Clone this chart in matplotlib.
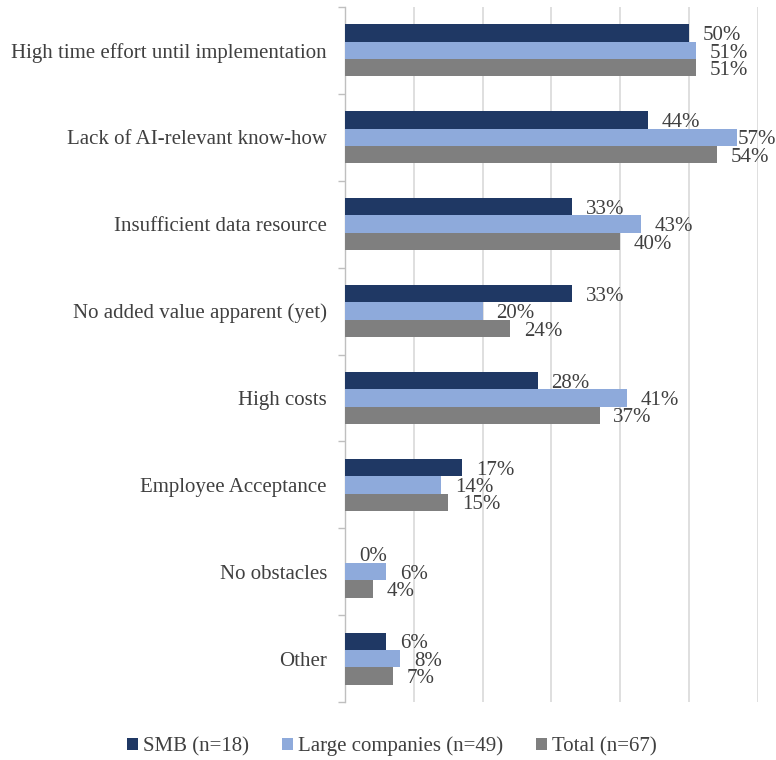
import numpy as np
import matplotlib
matplotlib.use("Agg")
import matplotlib.pyplot as plt

plt.rcParams['font.family'] = ['Liberation Serif', 'DejaVu Serif']

categories = ["High time effort until implementation",
              "Lack of AI-relevant know-how",
              "Insufficient data resource",
              "No added value apparent (yet)",
              "High costs",
              "Employee Acceptance",
              "No obstacles",
              "Other"]
smb = [50, 44, 33, 33, 28, 17, 0, 6]
large = [51, 57, 43, 20, 41, 14, 6, 8]
total = [51, 54, 40, 24, 37, 15, 4, 7]
series_names = ["SMB (n=18)", "Large companies (n=49)", "Total (n=67)"]
colors = ["#1F3864", "#8EAADB", "#7F7F7F"]

fig = plt.figure(figsize=(7.76, 7.6), dpi=100)
ax = fig.add_axes([0.4446, 0.0763, 0.5320, 0.9145])

n = len(categories)
y = np.arange(n)
h = 0.2
for i, (vals, name, c) in enumerate(zip([smb, large, total], series_names, colors)):
    pos = y + (i - 1) * h
    ax.barh(pos, vals, height=h, color=c, label=name, zorder=3)
    for p, v in zip(pos, vals):
        # keep labels inside the figure like Excel does
        ax.text(min(v + 2.0, 57.0), p + 0.03, f"{v}%", ha='left', va='center',
                fontsize=15, color='#404040', zorder=4)

ax.set_xlim(0, 60)
ax.set_ylim(n - 0.5, -0.5)
ax.set_xticks(np.arange(10, 61, 10))
ax.tick_params(axis='x', length=0, labelbottom=False)
ax.xaxis.grid(True, color='#D9D9D9', linewidth=1.2, zorder=0)

ax.set_yticks(y)
ax.set_yticklabels(categories, fontsize=15, color='#404040')
ax.set_yticks(np.arange(-0.5, n, 1), minor=True)
ax.tick_params(axis='y', which='major', length=0, pad=13)
ax.tick_params(axis='y', which='minor', length=5, color='#BFBFBF', width=1)

for s in ['top', 'right', 'bottom']:
    ax.spines[s].set_visible(False)
ax.spines['left'].set_color('#BFBFBF')
ax.spines['left'].set_linewidth(1)

fig.legend(loc='lower center', bbox_to_anchor=(0.505, -0.02), ncol=3, frameon=False,
           fontsize=15, handlelength=0.5, handleheight=0.5, handletextpad=0.25,
           columnspacing=1.6, labelcolor='#404040')

fig.savefig("out.png", dpi=100)
